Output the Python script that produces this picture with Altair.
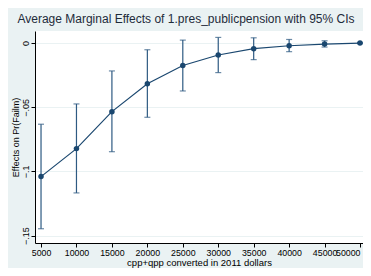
import altair as alt
import pandas as pd

income = [5000, 10000, 15000, 20000, 25000, 30000, 35000, 40000, 45000, 50000]
effect = [-0.104, -0.0822, -0.0534, -0.0317, -0.0175, -0.0093, -0.0044, -0.0021, -0.0008, 0.0]
ci_low = [-0.1446, -0.1167, -0.0846, -0.0578, -0.0373, -0.023, -0.0129, -0.0067, -0.0031, -0.0004]
ci_high = [-0.0632, -0.0474, -0.0217, -0.0052, 0.0023, 0.0044, 0.0041, 0.0028, 0.0018, 0.0004]

df = pd.DataFrame({"x": income, "y": effect, "lo": ci_low, "hi": ci_high})

navy = "#1A476F"
ci_col = "#2E5A82"
font = "Liberation Sans"

xs = alt.Scale(domain=[4150, 50420], nice=False, zero=False)
ys = alt.Scale(domain=[-0.1557, 0.0094], nice=False, zero=False)

xaxis = alt.Axis(values=income, format="d", title="cpp+qpp converted in 2011 dollars", grid=False,
                 labelOverlap=False, labelFlush=4, tickCount=10,
                 labelFontSize=8.8, titleFontSize=9.5, labelColor="#000", titleColor="#000",
                 domainColor="#000", tickColor="#000", tickSize=4, labelPadding=1,
                 titlePadding=1, titleFontWeight="normal", labelFont=font, titleFont=font)
yaxis = alt.Axis(values=[0, -0.05, -0.1, -0.15], title="Effects on Pr(Failm)",
                 labelExpr="datum.value == 0 ? '0' : replace(format(datum.value, '.2~f'), '0.', '.')",
                 labelAngle=270, labelAlign="center", labelBaseline="bottom",
                 labelOverlap=False, labelFlush=False,
                 grid=True, gridColor="#EAF2F3", gridWidth=1.2,
                 labelFontSize=9, titleFontSize=9, labelColor="#000", titleColor="#000",
                 domainColor="#000", tickColor="#000", tickSize=4, labelPadding=1,
                 titlePadding=1, titleFontWeight="normal", labelFont=font, titleFont=font)

X = alt.X("x:Q", scale=xs, axis=xaxis)
base = alt.Chart(df)

rules = base.mark_rule(color=ci_col, strokeWidth=1.2).encode(
    x=X, y=alt.Y("lo:Q", scale=ys, axis=yaxis), y2="hi:Q")
cap_lo = base.mark_tick(color=ci_col, thickness=1.2, size=6, orient="horizontal").encode(
    x=X, y=alt.Y("lo:Q", scale=ys, axis=yaxis))
cap_hi = base.mark_tick(color=ci_col, thickness=1.2, size=6, orient="horizontal").encode(
    x=X, y=alt.Y("hi:Q", scale=ys, axis=yaxis))
line = base.mark_line(color=navy, strokeWidth=1.2).encode(
    x=X, y=alt.Y("y:Q", scale=ys, axis=yaxis))
pts = base.mark_point(color=navy, filled=True, opacity=1, size=30).encode(
    x=X, y=alt.Y("y:Q", scale=ys, axis=yaxis))

chart = alt.layer(rules, cap_lo, cap_hi, line, pts).properties(
    width=328, height=212,
    autosize=alt.AutoSizeParams(type="none"),
    padding={"left": 27, "top": 23, "right": 0, "bottom": 25},
    background="#EAF2F3",
    title=alt.TitleParams(
        "Average Marginal Effects of 1.pres_publicpension with 95% CIs",
        fontSize=12, font=font, fontWeight="normal", color="#1e2b3a",
        anchor="middle", frame="group", offset=5, dx=-13,
    ),
).configure_view(fill="white", stroke=None)

chart.save("out.html", embed_options={"renderer": "svg", "actions": False})
